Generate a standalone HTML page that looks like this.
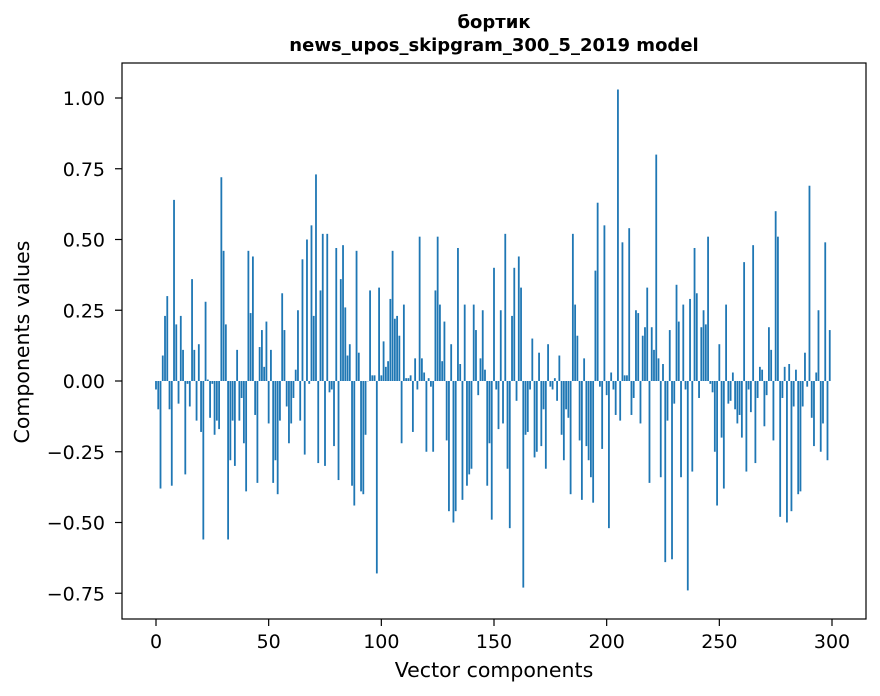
<!DOCTYPE html>
<html><head><meta charset="utf-8"><style>
body{margin:0;background:#fff}
svg{display:block;font-family:"DejaVu Sans","Liberation Sans",sans-serif}
</style></head><body>
<svg id="chart" width="880" height="696">
<rect width="880" height="696" fill="#fff"/>
<text x="494" y="28" text-anchor="middle" font-size="18" font-weight="bold">бортик</text>
<text x="494" y="51" text-anchor="middle" font-size="18" font-weight="bold">news_upos_skipgram_300_5_2019 model</text>
<g id="bars"></g>
<g id="xticks"></g>
<g id="yticks"></g>
<rect x="122" y="63" width="744" height="556" fill="none" stroke="#000" stroke-width="1.2"/>
<text x="494" y="677" text-anchor="middle" font-size="20.5">Vector components</text>
<text transform="translate(29,342) rotate(-90)" text-anchor="middle" font-size="20.5">Components values</text>
</svg>
<script>
const values = [
-0.03,-0.1,-0.38,0.09,0.23,0.3,-0.1,-0.37,0.64,0.2,
-0.08,0.23,0.11,-0.33,-0.01,-0.09,0.36,0.11,-0.14,0.13,
-0.18,-0.56,0.28,0.005,-0.13,-0.01,-0.19,-0.14,-0.17,0.72,
0.46,0.2,-0.56,-0.28,-0.14,-0.3,0.11,-0.14,-0.06,-0.22,
-0.39,0.46,0.24,0.44,-0.12,-0.36,0.12,0.18,0.05,0.21,
-0.15,0.11,-0.36,-0.28,-0.4,-0.14,0.31,0.18,-0.09,-0.22,
-0.15,-0.06,0.04,0.25,-0.14,0.43,-0.26,0.5,-0.01,0.55,
0.23,0.73,-0.29,0.32,0.52,-0.3,0.52,-0.04,-0.03,-0.23,
0.47,-0.35,0.36,0.48,0.26,0.09,0.13,-0.37,-0.44,0.46,
0.1,-0.39,-0.4,-0.19,0.0,0.32,0.02,0.02,-0.68,0.33,
0.02,0.14,0.05,0.07,0.29,0.46,0.22,0.23,0.16,-0.22,
0.27,0.01,0.01,0.02,-0.18,0.08,-0.03,0.51,0.08,0.03,
-0.25,0.01,-0.02,-0.25,0.32,0.51,0.27,0.07,0.21,-0.21,
-0.46,0.13,-0.5,-0.46,0.47,0.06,-0.42,0.27,-0.37,-0.33,
-0.31,0.27,0.18,-0.05,0.08,0.25,0.04,-0.37,-0.22,-0.49,
0.4,-0.03,-0.17,0.25,-0.15,0.52,-0.31,-0.52,0.23,0.4,
-0.07,0.44,0.33,-0.73,-0.19,-0.18,-0.03,0.15,-0.27,-0.25,
0.1,-0.23,-0.1,-0.31,0.13,-0.02,-0.03,0.01,-0.07,0.09,
-0.19,-0.28,-0.1,-0.13,-0.4,0.52,0.27,0.16,-0.21,-0.42,
0.08,-0.23,-0.28,-0.34,-0.43,0.39,0.63,-0.02,-0.24,0.55,
-0.05,-0.52,0.03,-0.03,-0.12,1.03,-0.14,0.49,0.02,0.02,
0.54,-0.12,-0.06,0.25,0.24,-0.15,0.16,0.19,0.33,-0.36,
0.19,0.11,0.8,0.08,-0.34,0.06,-0.64,-0.14,0.18,-0.63,
-0.08,0.34,0.21,-0.34,0.27,-0.03,-0.74,0.29,-0.32,0.47,
0.31,-0.06,0.19,0.25,0.2,0.51,-0.01,-0.04,-0.25,-0.44,
0.13,-0.2,-0.38,0.27,-0.08,-0.07,0.03,-0.1,-0.15,-0.12,
-0.2,0.42,-0.32,-0.03,-0.11,0.48,-0.29,-0.06,0.05,0.04,
-0.16,-0.05,0.19,0.11,-0.21,0.6,0.51,-0.48,-0.06,0.05,
-0.5,0.06,-0.46,-0.09,0.04,-0.4,-0.39,-0.09,0.1,-0.02,
0.69,-0.13,-0.23,0.03,0.25,-0.25,-0.15,0.49,-0.28,0.18
];
const xTicks = [0,50,100,150,200,250,300];
const yTicks = [-0.75,-0.5,-0.25,0,0.25,0.5,0.75,1.0];
const yTickLabels = ["\u22120.75","\u22120.50","\u22120.25","0.00","0.25","0.50","0.75","1.00"];

const NS="http://www.w3.org/2000/svg";
const xs = i => 156 + i*(676/300);
const ys = v => 381 - v*283;
const bw = 0.8*(676/300);
const gb=document.getElementById('bars');
values.forEach((v,i)=>{
  const r=document.createElementNS(NS,'rect');
  const y0=ys(0), y1=ys(v);
  r.setAttribute('x',xs(i)-bw/2);
  r.setAttribute('y',Math.min(y0,y1));
  r.setAttribute('width',bw);
  r.setAttribute('height',Math.max(Math.abs(y1-y0),0.3));
  r.setAttribute('fill','#1f77b4');
  
  
  gb.appendChild(r);
});
const gx=document.getElementById('xticks');
xTicks.forEach(t=>{
  const l=document.createElementNS(NS,'line');
  l.setAttribute('x1',xs(t));l.setAttribute('x2',xs(t));
  l.setAttribute('y1',619);l.setAttribute('y2',626);
  l.setAttribute('stroke','#000');
  l.setAttribute('stroke-width','1.2');
  
  
  gx.appendChild(l);
  const tx=document.createElementNS(NS,'text');
  tx.setAttribute('x',xs(t));tx.setAttribute('y',648);
  tx.setAttribute('text-anchor','middle');tx.setAttribute('font-size','19');
  tx.textContent=t;
  
  
  gx.appendChild(tx);
});
const gy=document.getElementById('yticks');
yTicks.forEach((t,k)=>{
  const l=document.createElementNS(NS,'line');
  l.setAttribute('x1',115);l.setAttribute('x2',122);
  l.setAttribute('y1',ys(t));l.setAttribute('y2',ys(t));
  l.setAttribute('stroke','#000');
  l.setAttribute('stroke-width','1.2');
  
  
  gy.appendChild(l);
  const tx=document.createElementNS(NS,'text');
  tx.setAttribute('x',105);tx.setAttribute('y',ys(t)+7);
  tx.setAttribute('text-anchor','end');tx.setAttribute('font-size','19');
  tx.textContent=yTickLabels[k];
  
  
  gy.appendChild(tx);
});
</script>
</body></html>
